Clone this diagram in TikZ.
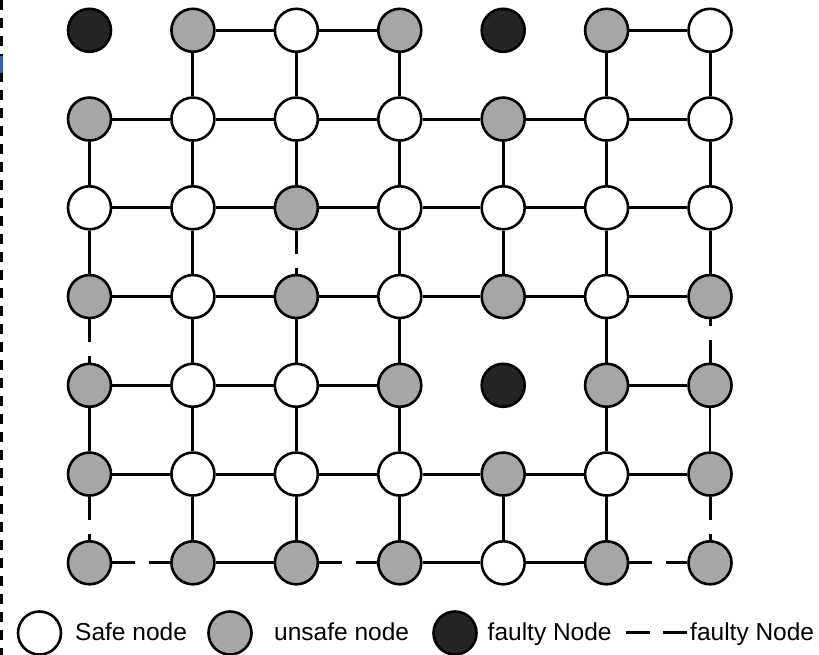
\documentclass[tikz,border=0pt]{standalone}
\usepackage{fontspec}
\setmainfont{Liberation Sans}
\definecolor{unsafegray}{HTML}{A6A6A6}
\definecolor{faultyblack}{HTML}{252525}
\definecolor{markblue}{RGB}{40,100,200}
\tikzset{
  safe/.style={circle, draw=black, line width=2.6pt, fill=white, minimum size=43pt, inner sep=0pt},
  unsafe/.style={safe, fill=unsafegray},
  faulty/.style={safe, fill=faultyblack},
  link/.style={line width=3pt, draw=black},
  brokenlink/.style={link, dash pattern=on 23pt off 14pt},
  thinlink/.style={line width=1.3pt, draw=black},
  legendtext/.style={anchor=base west, inner sep=0pt, font=\fontsize{24.5}{28}\selectfont}
}
\begin{document}
\begin{tikzpicture}[x=1pt,y=1pt]
\useasboundingbox (0,0) rectangle (819,-655);
% left dashed border
\draw[line width=3pt, dash pattern=on 10pt off 8pt] (1.5,0) -- (1.5,-655);
\fill[markblue] (0,-56) rectangle (2.5,-73);
% grid nodes
\foreach \r/\c/\t in {
 1/1/faulty,1/2/unsafe,1/3/safe,1/4/unsafe,1/5/faulty,1/6/unsafe,1/7/safe,
 2/1/unsafe,2/2/safe,2/3/safe,2/4/safe,2/5/unsafe,2/6/safe,2/7/safe,
 3/1/safe,3/2/safe,3/3/unsafe,3/4/safe,3/5/safe,3/6/safe,3/7/safe,
 4/1/unsafe,4/2/safe,4/3/unsafe,4/4/safe,4/5/unsafe,4/6/safe,4/7/unsafe,
 5/1/unsafe,5/2/safe,5/3/safe,5/4/unsafe,5/5/faulty,5/6/unsafe,5/7/unsafe,
 6/1/unsafe,6/2/safe,6/3/safe,6/4/safe,6/5/unsafe,6/6/safe,6/7/unsafe,
 7/1/unsafe,7/2/unsafe,7/3/unsafe,7/4/unsafe,7/5/safe,7/6/unsafe,7/7/unsafe}
 \node[\t] (n\r\c) at ({89.5+(\c-1)*103.42},{-(30.3+(\r-1)*88.75)}) {};
% solid links
\foreach \a/\b in {
 12/13,13/14,16/17,
 12/22,13/23,14/24,16/26,17/27,
 21/22,22/23,23/24,24/25,25/26,26/27,
 21/31,22/32,23/33,24/34,25/35,26/36,27/37,
 31/32,32/33,33/34,34/35,35/36,36/37,
 31/41,32/42,34/44,35/45,36/46,37/47,
 41/42,42/43,43/44,44/45,45/46,46/47,
 42/52,43/53,44/54,46/56,
 51/52,52/53,53/54,56/57,
 51/61,52/62,53/63,54/64,56/66,
 61/62,62/63,63/64,64/65,65/66,66/67,
 62/72,63/73,64/74,65/75,66/76,
 72/73,74/75,75/76}
 \draw[link] (n\a) -- (n\b);
\draw[thinlink] (n57) -- (n67);
% broken links
\foreach \a/\b in {33/43,41/51,57/47,61/71,67/77,71/72,73/74,76/77}
 \draw[brokenlink] (n\a) -- (n\b);
% legend
\node[safe] (lsafe) at (39.5,-633) {};
\node[legendtext] (tsafe) at (75,-640.7) {Safe node};
\node[unsafe] (lunsafe) at (230,-633) {};
\node[legendtext] (tunsafe) at (274,-640.7) {unsafe node};
\node[faulty] (lfaulty) at (455,-633) {};
\node[legendtext] (tfaulty) at (487.5,-640.7) {faulty Node};
\coordinate (ld1) at (626,-632);
\coordinate (ld2) at (687,-632);
\draw[link, dash pattern=on 24pt off 13pt] (ld1) -- (ld2);
\node[legendtext] (tlink) at (690,-640.7) {faulty Node};
\end{tikzpicture}
\end{document}
